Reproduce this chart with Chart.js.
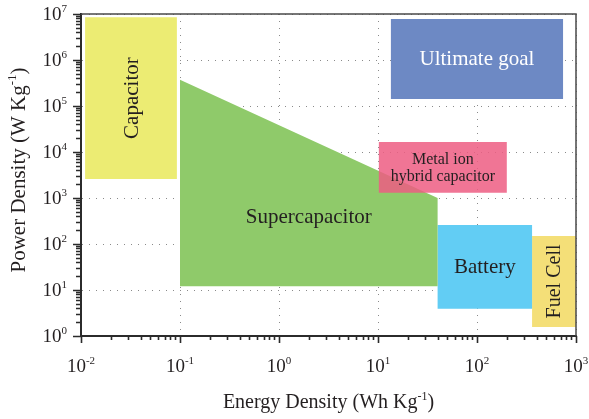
<!DOCTYPE html>
<html>
<head>
<meta charset="utf-8">
<script src="https://cdn.jsdelivr.net/npm/chart.js@4.4.1/dist/chart.umd.min.js"></script>
<style>
  html, body { margin: 0; padding: 0; background: #fff; }
</style>
</head>
<body>
<canvas id="myChart" width="589" height="419"></canvas>
<script>
// tick labels (powers of ten)
const xTickExp = [-2, -1, 0, 1, 2, 3];
const yTickExp = [0, 1, 2, 3, 4, 5, 6, 7];

// regions: energy density (Wh/kg) and power density (W/kg)
const capacitorE = [0.011, 0.093];
const capacitorP = [2600, 8.5e6];
const superE = [0.1, 40, 40, 0.1];
const superP = [3.7e5, 1000, 12, 12];
const superLabelAt = [2, 400];
const hybridE = [10.2, 200];
const hybridP = [1300, 16500];
const goalE = [13.5, 740];
const goalP = [1.42e5, 7.8e6];
const batteryE = [40, 360];
const batteryP = [3.9, 260];
const fuelE = [360, 1000];
const fuelP = [1.57, 150];

const FONT = '"Liberation Serif", "Times New Roman", serif';
const TEXT = "#231f20";

function rect(e, p) {
  return [
    { x: e[0], y: p[0] }, { x: e[1], y: p[0] },
    { x: e[1], y: p[1] }, { x: e[0], y: p[1] }, { x: e[0], y: p[0] }
  ];
}
function poly(e, p) {
  const pts = e.map((v, i) => ({ x: v, y: p[i] }));
  pts.push(pts[0]);
  return pts;
}
function logMid(a) {
  return Math.pow(10, (Math.log10(a[0]) + Math.log10(a[a.length - 1])) / 2);
}
function region(name, pts, color, text) {
  return {
    label: name,
    data: pts,
    showLine: true,
    fill: "shape",
    backgroundColor: color,
    borderColor: "transparent",
    borderWidth: 0,
    pointRadius: 0,
    tension: 0,
    text: text
  };
}

const datasets = [
  region("Metal ion hybrid capacitor", rect(hybridE, hybridP), "rgba(237,93,130,0.85)",
    { lines: ["Metal ion", "hybrid capacitor"], at: [logMid(hybridE), logMid(hybridP)], size: 16, gap: 17 }),
  region("Supercapacitor", poly(superE, superP), "#8fca6a",
    { lines: ["Supercapacitor"], at: superLabelAt, size: 21 }),
  region("Capacitor", rect(capacitorE, capacitorP), "#ecec73",
    { lines: ["Capacitor"], at: [logMid(capacitorE), logMid(capacitorP)], size: 21, rotate: true }),
  region("Ultimate goal", rect(goalE, goalP), "#6d89c4",
    { lines: ["Ultimate goal"], at: [logMid(goalE), logMid(goalP)], size: 21, color: "#ffffff" }),
  region("Battery", rect(batteryE, batteryP), "#62cdf4",
    { lines: ["Battery"], at: [logMid(batteryE), logMid(batteryP)], size: 21 }),
  region("Fuel Cell", rect(fuelE, fuelP), "#f4df78",
    { lines: ["Fuel Cell"], at: [logMid(fuelE), logMid(fuelP)], size: 20, rotate: true })
];

function isDecade(v) {
  const l = Math.log10(v);
  return Math.abs(l - Math.round(l)) < 1e-6;
}

// draws text pieces, some as superscript, centred at x
function drawParts(ctx, parts, x, y, size) {
  const sup = Math.round(size * 0.6);
  let total = 0;
  parts.forEach(p => {
    ctx.font = (p.sup ? sup : size) + "px " + FONT;
    p.w = ctx.measureText(p.t).width;
    total += p.w;
  });
  let left = x - total / 2;
  parts.forEach(p => {
    ctx.font = (p.sup ? sup : size) + "px " + FONT;
    ctx.fillText(p.t, left, p.sup ? y - size * 0.42 : y);
    left += p.w;
  });
  return total;
}

const overlay = {
  id: "overlay",
  afterDraw(chart) {
    const ctx = chart.ctx;
    const xs = chart.scales.x, ys = chart.scales.y;
    const a = chart.chartArea;
    ctx.save();

    // region labels
    chart.data.datasets.forEach(ds => {
      const t = ds.text;
      const px = xs.getPixelForValue(t.at[0]);
      const py = ys.getPixelForValue(t.at[1]);
      ctx.fillStyle = t.color || TEXT;
      ctx.font = t.size + "px " + FONT;
      ctx.textAlign = "center";
      ctx.textBaseline = "middle";
      ctx.save();
      ctx.translate(px, py);
      if (t.rotate) ctx.rotate(-Math.PI / 2);
      const gap = t.gap || 0;
      t.lines.forEach((s, i) => {
        ctx.fillText(s, 0, (i - (t.lines.length - 1) / 2) * gap + 1);
      });
      ctx.restore();
    });

    // frame top and right
    ctx.strokeStyle = "#4a4a4a";
    ctx.lineWidth = 1.5;
    ctx.beginPath();
    ctx.moveTo(a.left, a.top);
    ctx.lineTo(a.right, a.top);
    ctx.lineTo(a.right, a.bottom);
    ctx.stroke();

    // ticks
    ctx.strokeStyle = "#2b2b2b";
    ctx.lineWidth = 1.6;
    ctx.beginPath();
    xTickExp.forEach((k, i) => {
      for (let m = 1; m <= 9; m++) {
        if (m > 1 && i === xTickExp.length - 1) break;
        const px = Math.round(xs.getPixelForValue(m * Math.pow(10, k))) + 0.5;
        ctx.moveTo(px, a.bottom);
        ctx.lineTo(px, a.bottom + (m === 1 ? 7 : 4));
      }
    });
    yTickExp.forEach((k, i) => {
      for (let m = 1; m <= 9; m++) {
        if (m > 1 && i === yTickExp.length - 1) break;
        const py = Math.round(ys.getPixelForValue(m * Math.pow(10, k))) + 0.5;
        ctx.moveTo(a.left, py);
        ctx.lineTo(a.left - (m === 1 ? 8 : 5), py);
      }
    });
    ctx.stroke();

    // tick labels
    ctx.fillStyle = TEXT;
    ctx.textAlign = "left";
    ctx.textBaseline = "alphabetic";
    xTickExp.forEach(k => {
      const px = xs.getPixelForValue(Math.pow(10, k));
      drawParts(ctx, [{ t: "10" }, { t: String(k) }].map((p, j) => ({ t: p.t, sup: j === 1 })), px, a.bottom + 36, 19);
    });
    yTickExp.forEach(k => {
      const py = ys.getPixelForValue(Math.pow(10, k));
      ctx.font = "19px " + FONT;
      const w1 = ctx.measureText("10").width;
      ctx.font = "11px " + FONT;
      const w2 = ctx.measureText(String(k)).width;
      drawParts(ctx, [{ t: "10" }, { t: String(k), sup: true }], a.left - 14 - (w1 + w2) / 2, py + 6, 19);
    });

    // axis titles
    drawParts(ctx, [{ t: "Energy Density (Wh Kg" }, { t: "-1", sup: true }, { t: ")" }],
      (a.left + a.right) / 2, a.bottom + 72, 20);
    ctx.save();
    ctx.translate(25, (a.top + a.bottom) / 2 - 5);
    ctx.rotate(-Math.PI / 2);
    drawParts(ctx, [{ t: "Power Density (W Kg" }, { t: "-1", sup: true }, { t: ")" }], 0, 0, 21);
    ctx.restore();

    ctx.restore();
  }
};

new Chart("myChart", {
  type: "scatter",
  data: { datasets: datasets },
  options: {
    responsive: false,
    animation: false,
    layout: { padding: { left: 81, top: 14, right: 13, bottom: 83 } },
    plugins: { legend: { display: false }, tooltip: { enabled: false } },
    scales: {
      x: {
        type: "logarithmic",
        min: 0.01,
        max: 1000,
        z: 1,
        ticks: { display: false },
        grid: {
          drawTicks: false,
          lineWidth: 1,
          color: c => (c.tick && isDecade(c.tick.value) ? "#8a8a8a" : "transparent")
        },
        border: { display: true, color: "#2b2b2b", width: 2, dash: [1, 6] }
      },
      y: {
        type: "logarithmic",
        min: 1,
        max: 1e7,
        z: 1,
        ticks: { display: false },
        grid: {
          drawTicks: false,
          lineWidth: 1,
          color: c => (c.tick && isDecade(c.tick.value) ? "#8a8a8a" : "transparent")
        },
        border: { display: true, color: "#2b2b2b", width: 2, dash: [1, 6] }
      }
    }
  },
  plugins: [overlay]
});
</script>
</body>
</html>
